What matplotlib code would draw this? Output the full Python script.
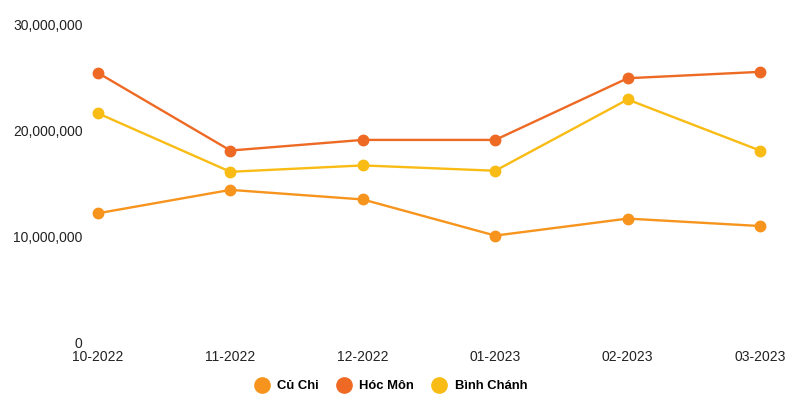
import matplotlib.pyplot as plt
from matplotlib.ticker import FuncFormatter

plt.rcParams['font.family'] = ['Liberation Sans', 'DejaVu Sans']

months = ["10-2022", "11-2022", "12-2022", "01-2023", "02-2023", "03-2023"]
cu_chi = [12_200_000, 14_400_000, 13_500_000, 10_100_000, 11_700_000, 11_000_000]
hoc_mon = [25_400_000, 18_100_000, 19_100_000, 19_100_000, 24_900_000, 25_500_000]
binh_chanh = [21_600_000, 16_100_000, 16_700_000, 16_200_000, 22_900_000, 18_100_000]

series = [
    ("Củ Chi", cu_chi, "#F7941D"),
    ("Hóc Môn", hoc_mon, "#EE6A24"),
    ("Bình Chánh", binh_chanh, "#F9BC15"),
]

fig = plt.figure(figsize=(8.06, 4.0), dpi=100)
ax = fig.add_axes([0.1216, 0.1425, 0.8214, 0.7975])

x = range(len(months))
for name, vals, col in series:
    ax.plot(x, vals, color=col, lw=1.7, marker="o", ms=7.5, label=name, clip_on=False)

ax.set_xlim(0, len(months) - 1)
ax.set_ylim(0, 30_000_000)
ax.set_yticks([0, 10_000_000, 20_000_000, 30_000_000])
ax.yaxis.set_major_formatter(FuncFormatter(lambda v, p: f"{int(v):,}"))
ax.set_xticks(list(x))
ax.set_xticklabels(months)
ax.tick_params(axis="y", length=0, pad=11, labelsize=10, labelcolor="#222222")
ax.tick_params(axis="x", length=0, pad=5, labelsize=10, labelcolor="#222222")
for s in ax.spines.values():
    s.set_visible(False)

leg = fig.legend(loc="center", bbox_to_anchor=(0.486, 0.035), ncol=3, frameon=False,
                 handlelength=0.8, handletextpad=0.8, columnspacing=1.5,
                 prop={"weight": "bold", "size": 9.4})
for h in leg.legend_handles:
    h.set_linestyle("none")
    h.set_markersize(11)

fig.savefig("out.png", dpi=100)
